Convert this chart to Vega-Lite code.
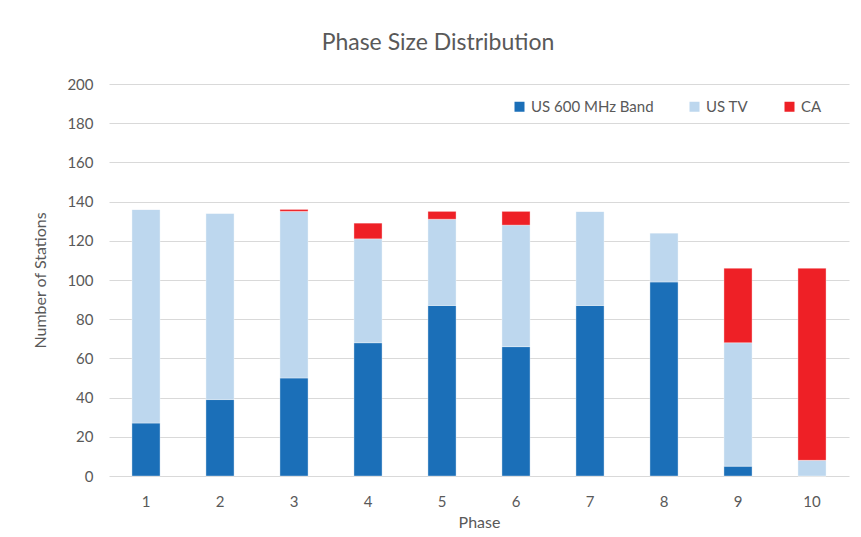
{
  "$schema": "https://vega.github.io/schema/vega-lite/v6.json",
  "autosize": {"type": "none"},
  "padding": {"left": 109, "top": 84, "right": 12, "bottom": 61},
  "width": 740,
  "height": 392,
  "background": "white",
  "title": {
    "text": "Phase Size Distribution",
    "fontSize": 23,
    "font": "Lato",
    "fontWeight": "normal",
    "color": "#595959",
    "anchor": "middle",
    "dx": -41,
    "offset": 22
  },
  "data": {
    "values": [
      {"phase": 1, "series": "US 600 MHz Band", "ord": 1, "stations": 27},
      {"phase": 1, "series": "US TV", "ord": 2, "stations": 109},
      {"phase": 1, "series": "CA", "ord": 3, "stations": 0},
      {"phase": 2, "series": "US 600 MHz Band", "ord": 1, "stations": 39},
      {"phase": 2, "series": "US TV", "ord": 2, "stations": 95},
      {"phase": 2, "series": "CA", "ord": 3, "stations": 0},
      {"phase": 3, "series": "US 600 MHz Band", "ord": 1, "stations": 50},
      {"phase": 3, "series": "US TV", "ord": 2, "stations": 85},
      {"phase": 3, "series": "CA", "ord": 3, "stations": 1},
      {"phase": 4, "series": "US 600 MHz Band", "ord": 1, "stations": 68},
      {"phase": 4, "series": "US TV", "ord": 2, "stations": 53},
      {"phase": 4, "series": "CA", "ord": 3, "stations": 8},
      {"phase": 5, "series": "US 600 MHz Band", "ord": 1, "stations": 87},
      {"phase": 5, "series": "US TV", "ord": 2, "stations": 44},
      {"phase": 5, "series": "CA", "ord": 3, "stations": 4},
      {"phase": 6, "series": "US 600 MHz Band", "ord": 1, "stations": 66},
      {"phase": 6, "series": "US TV", "ord": 2, "stations": 62},
      {"phase": 6, "series": "CA", "ord": 3, "stations": 7},
      {"phase": 7, "series": "US 600 MHz Band", "ord": 1, "stations": 87},
      {"phase": 7, "series": "US TV", "ord": 2, "stations": 48},
      {"phase": 7, "series": "CA", "ord": 3, "stations": 0},
      {"phase": 8, "series": "US 600 MHz Band", "ord": 1, "stations": 99},
      {"phase": 8, "series": "US TV", "ord": 2, "stations": 25},
      {"phase": 8, "series": "CA", "ord": 3, "stations": 0},
      {"phase": 9, "series": "US 600 MHz Band", "ord": 1, "stations": 5},
      {"phase": 9, "series": "US TV", "ord": 2, "stations": 63},
      {"phase": 9, "series": "CA", "ord": 3, "stations": 38},
      {"phase": 10, "series": "US 600 MHz Band", "ord": 1, "stations": 0},
      {"phase": 10, "series": "US TV", "ord": 2, "stations": 8},
      {"phase": 10, "series": "CA", "ord": 3, "stations": 98}
    ]
  },
  "mark": {"type": "bar", "stroke": "white", "strokeOpacity": 0.35, "strokeWidth": 1},
  "encoding": {
    "x": {
      "field": "phase",
      "type": "ordinal",
      "title": "Phase",
      "scale": {"paddingInner": 0.62, "paddingOuter": 0.31},
      "axis": {
        "labelAngle": 0,
        "domain": false,
        "ticks": false,
        "labelPadding": 18,
        "labelFontSize": 15,
        "labelFont": "Lato",
        "labelColor": "#595959",
        "titleFont": "Lato",
        "titleFontSize": 16,
        "titleFontWeight": "normal",
        "titleColor": "#595959",
        "titlePadding": 5
      }
    },
    "y": {
      "field": "stations",
      "type": "quantitative",
      "stack": "zero",
      "title": "Number of Stations",
      "scale": {"domain": [0, 200]},
      "axis": {
        "values": [0, 20, 40, 60, 80, 100, 120, 140, 160, 180, 200],
        "domain": false,
        "ticks": false,
        "gridColor": "#d9d9d9",
        "gridWidth": 1.2,
        "labelPadding": 16,
        "labelFontSize": 15,
        "labelFont": "Lato",
        "labelColor": "#595959",
        "titleFont": "Lato",
        "titleFontSize": 16,
        "titleFontWeight": "normal",
        "titleColor": "#595959",
        "titlePadding": 18
      }
    },
    "color": {
      "field": "series",
      "type": "nominal",
      "sort": ["US 600 MHz Band", "US TV", "CA"],
      "scale": {
        "domain": ["US 600 MHz Band", "US TV", "CA"],
        "range": ["#1b6fb8", "#bdd7ee", "#ee2026"]
      },
      "legend": {
        "title": null,
        "orient": "none",
        "direction": "horizontal",
        "padding": 0,
        "legendX": 403,
        "legendY": 15,
        "symbolType": "square",
        "symbolSize": 100,
        "symbolStrokeWidth": 0,
        "labelFont": "Lato",
        "labelFontSize": 15,
        "labelColor": "#595959",
        "columnPadding": 33,
        "labelOffset": 4
      }
    },
    "order": {"field": "ord", "type": "quantitative"}
  },
  "config": {
    "view": {"stroke": null}
  }
}
